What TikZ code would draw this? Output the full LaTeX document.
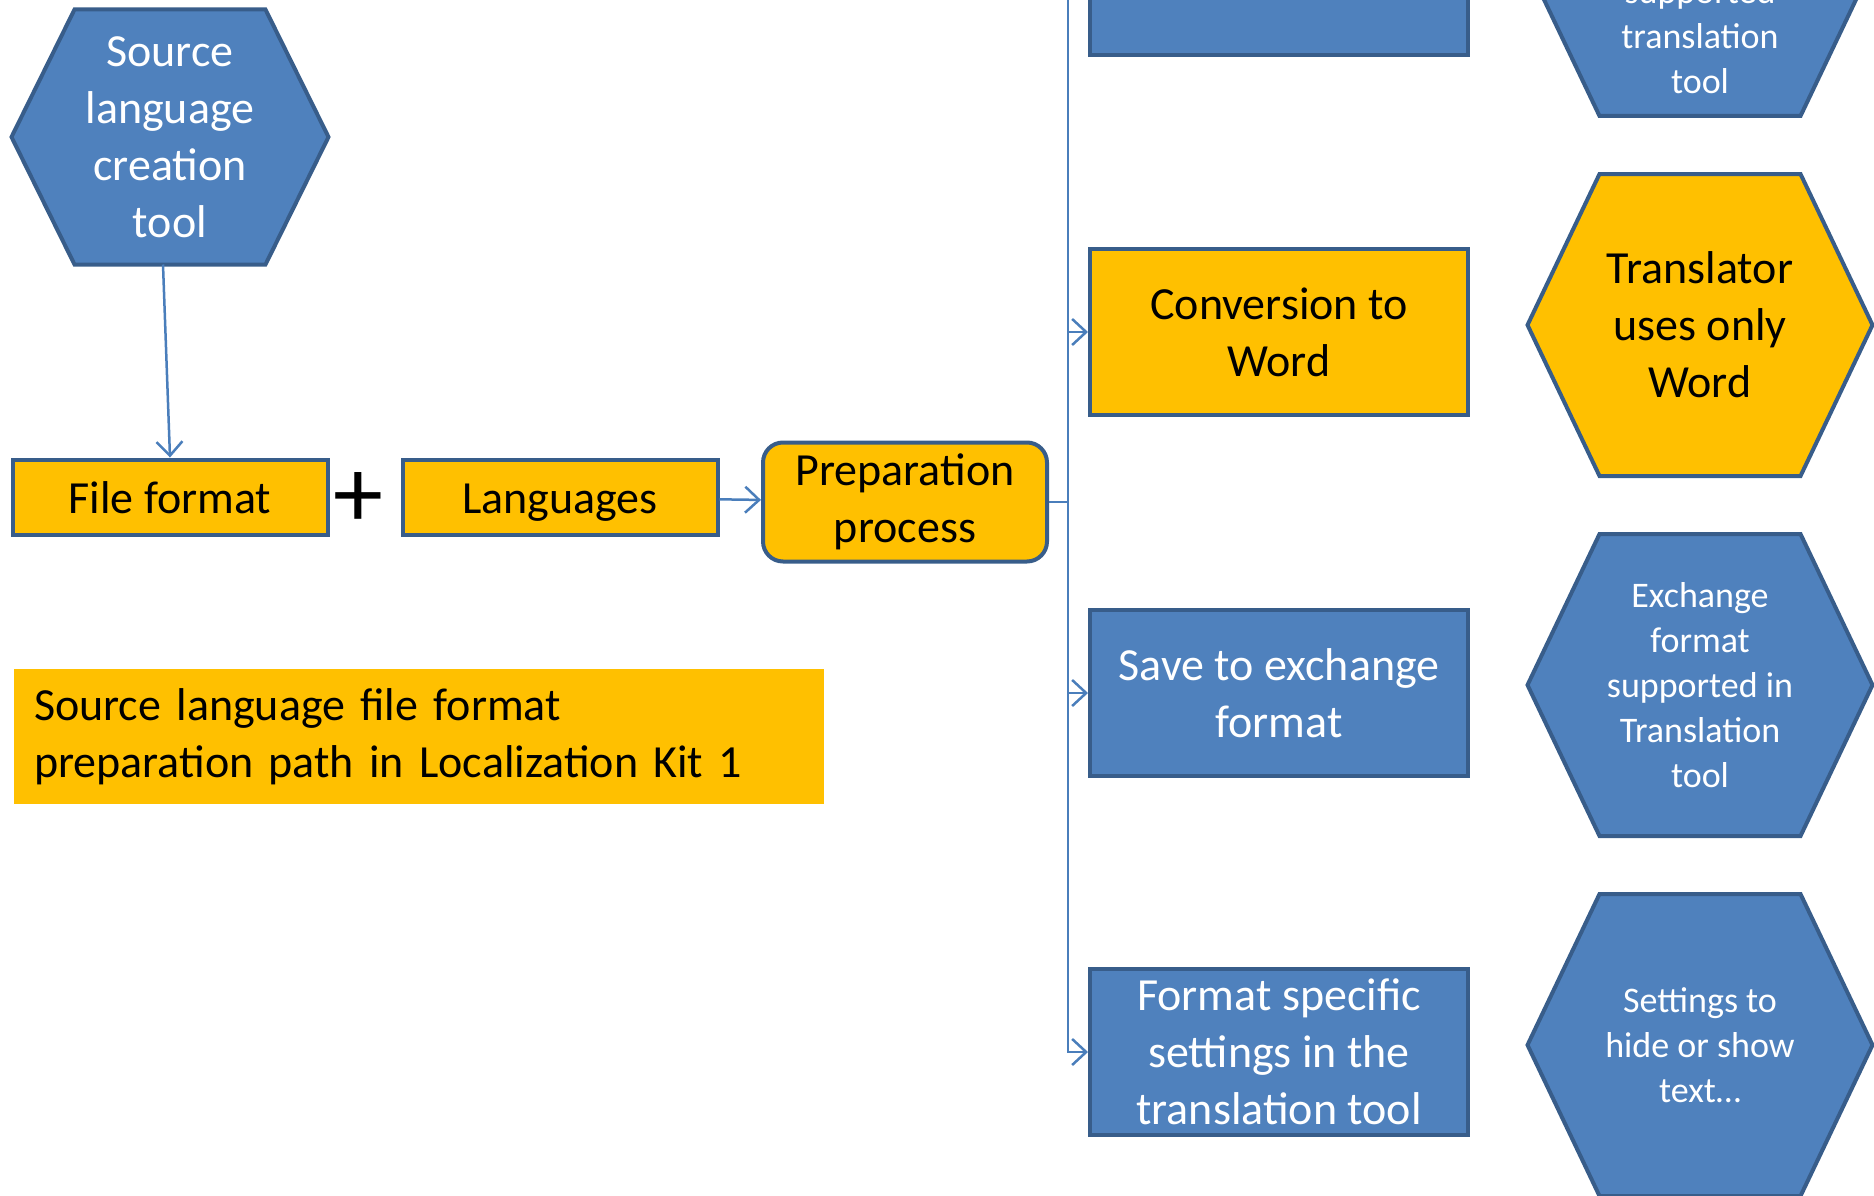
\documentclass[tikz,border=0pt]{standalone}
\usepackage{fontspec}
\setmainfont{Carlito}
\usetikzlibrary{arrows.meta, backgrounds, positioning}

\definecolor{boxblue}{HTML}{4F81BD}
\definecolor{edgeblue}{HTML}{385D8A}
\definecolor{boxorange}{HTML}{FFC000}
\definecolor{linkblue}{HTML}{4A7EBB}

\begin{document}
\begin{tikzpicture}[x=1pt,y=-1pt,
	every node/.style={align=center,line width=4pt,draw=edgeblue,inner sep=0pt},
	big/.style={font=\fontsize{46}{57}\selectfont},
	small/.style={font=\fontsize{36}{45}\selectfont},
	blueshape/.style={fill=boxblue,text=white},
	orangeshape/.style={fill=boxorange,text=black},
	box/.style={rectangle,minimum width=378pt,minimum height=166pt},
	oneline/.style={minimum width=315pt,minimum height=75pt,text height=38pt,text depth=5pt},
	hexa/.style={rectangle,draw=none,fill=none,outer sep=0pt,minimum width=345pt,minimum height=302pt},
	hexline/.style={draw=edgeblue,line width=4pt,line join=miter},
	link/.style={draw=linkblue,line width=2.5pt},
	>={Straight Barb[length=14pt,width=26pt]}]
\useasboundingbox (0,0) rectangle (1874,1196);
\clip (0,0) rectangle (1874,1196);

% source side
\node[hexa,text=white,big,minimum width=317pt,minimum height=255pt] (tool) at (170,137) {Source\\language\\creation\\tool};
\node[orangeshape,big,oneline] (format) at (170,497) {File format};
\node[draw=none,font=\fontsize{100}{100}\selectfont] (plus) at (358,500) {+};
\node[orangeshape,big,oneline] (lang) at (560,497) {Languages};
\node[orangeshape,big,rounded corners=20pt,minimum width=284pt,minimum height=119pt] (prep) at (905,502) {Preparation\\process};

\node[draw=none,fill=boxorange,big,align=left,anchor=north west,
	text width=770pt,inner xsep=20pt,minimum height=135pt] (note) at (12,667)
	{Source language file format\\preparation path in Localization Kit 1};

% preparation paths
\node[box,blueshape,big] (top) at (1279,-28) {};
\node[box,orangeshape,big] (conv) at (1279,332) {Conversion to\\Word};
\node[box,blueshape,big] (save) at (1279,693) {Save to exchange\\format};
\node[box,blueshape,big] (fmt) at (1279,1052) {Format specific\\settings in the\\translation tool};

% results
\node[hexa,text=white,small] (nohex) at (1700,-35) {\strut\\\strut\\\strut\\supported\\translation\\tool};
\node[hexa,text=black,big] (word) at (1700,325) {Translator\\uses only\\Word};
\node[hexa,text=white,small] (exch) at (1700,685) {Exchange\\format\\supported in\\Translation\\tool};
\node[hexa,text=white,small] (sett) at (1700,1045) {Settings to\\hide or show\\text…};

% hexagon outlines behind the texts
\begin{scope}[on background layer]
\foreach \h/\c/\d in {tool/boxblue/63,nohex/boxblue/72,word/boxorange/72,exch/boxblue/72,sett/boxblue/72}
	\draw[hexline,fill=\c] (\h.west) -- ([xshift=\d pt]\h.north west) -- ([xshift=-\d pt]\h.north east)
		-- (\h.east) -- ([xshift=-\d pt]\h.south east) -- ([xshift=\d pt]\h.south west) -- cycle;
\end{scope}

% connectors
\path (prep.east) -- ++(19,0) coordinate (spine);
\draw[link,->] ([xshift=-7pt]tool.south) -- (format.north);
\draw[link,->] (lang) -- (prep);
\draw[link] (prep.east) -- (spine);
\foreach \n in {top,conv,save,fmt}
	\draw[link,->] (spine) |- (\n.west);
\end{tikzpicture}
\end{document}
